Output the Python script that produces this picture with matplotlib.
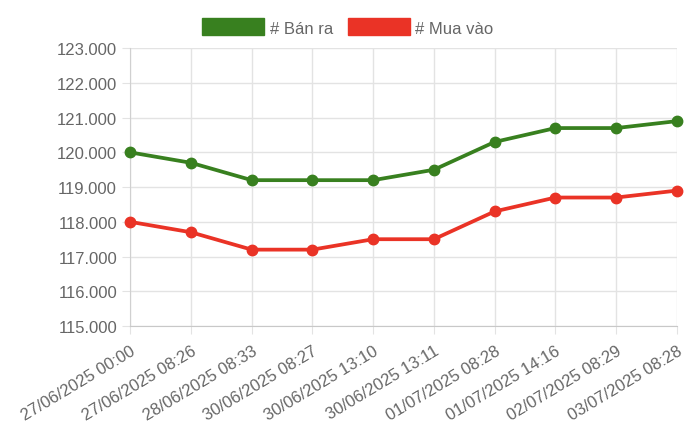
import numpy as np
import matplotlib.pyplot as plt
from matplotlib.patches import Patch
from matplotlib.ticker import FuncFormatter

plt.rcParams['font.family'] = ['Liberation Sans', 'DejaVu Sans']

# Data
labels = ['27/06/2025 00:00', '27/06/2025 08:26', '28/06/2025 08:33', '30/06/2025 08:27',
          '30/06/2025 13:10', '30/06/2025 13:11', '01/07/2025 08:28', '01/07/2025 14:16',
          '02/07/2025 08:29', '03/07/2025 08:28']
ban_ra = [120000, 119700, 119200, 119200, 119200, 119500, 120300, 120700, 120700, 120900]
mua_vao = [118000, 117700, 117200, 117200, 117500, 117500, 118300, 118700, 118700, 118900]
series_names = ['# Bán ra', '# Mua vào']
green = '#38801f'
red = '#ea3326'
text_col = '#666666'
grid_col = '#e3e3e3'

fig = plt.figure(figsize=(7, 4.39), dpi=100)
ax = fig.add_axes([0.186, 0.255, 0.781, 0.633])

x = np.arange(len(labels))
ax.plot(x, ban_ra, color=green, lw=2.7, marker='o', ms=7.5, zorder=3, clip_on=False)
ax.plot(x, mua_vao, color=red, lw=2.7, marker='o', ms=7.5, zorder=3, clip_on=False)

ax.set_xlim(0, len(labels) - 1)
ax.set_ylim(115000, 123000)
ax.set_yticks(np.arange(115000, 123001, 1000))
ax.yaxis.set_major_formatter(FuncFormatter(lambda v, p: f'{int(v):,}'.replace(',', '.')))
ax.set_xticks(x)
ax.set_xticklabels(labels, rotation=31, ha='right', rotation_mode='anchor')

ax.grid(True, color=grid_col, lw=1)
ax.set_axisbelow(True)
for s in ['top', 'right']:
    ax.spines[s].set_visible(False)
ax.spines['left'].set_color('#d0d0d0')
ax.spines['bottom'].set_color('#c8c8c8')
ax.tick_params(axis='both', colors=grid_col, labelcolor=text_col, labelsize=12, length=6)
ax.tick_params(axis='x', pad=6)

handles = [Patch(facecolor=green, edgecolor=green), Patch(facecolor=red, edgecolor=red)]
fig.legend(handles, series_names, loc='upper center', bbox_to_anchor=(0.497, 0.99), ncol=2,
           frameon=False, fontsize=12, labelcolor=text_col, handlelength=3.7,
           handleheight=1.2, handletextpad=0.35, columnspacing=0.9)

fig.savefig('out.png', dpi=100)
